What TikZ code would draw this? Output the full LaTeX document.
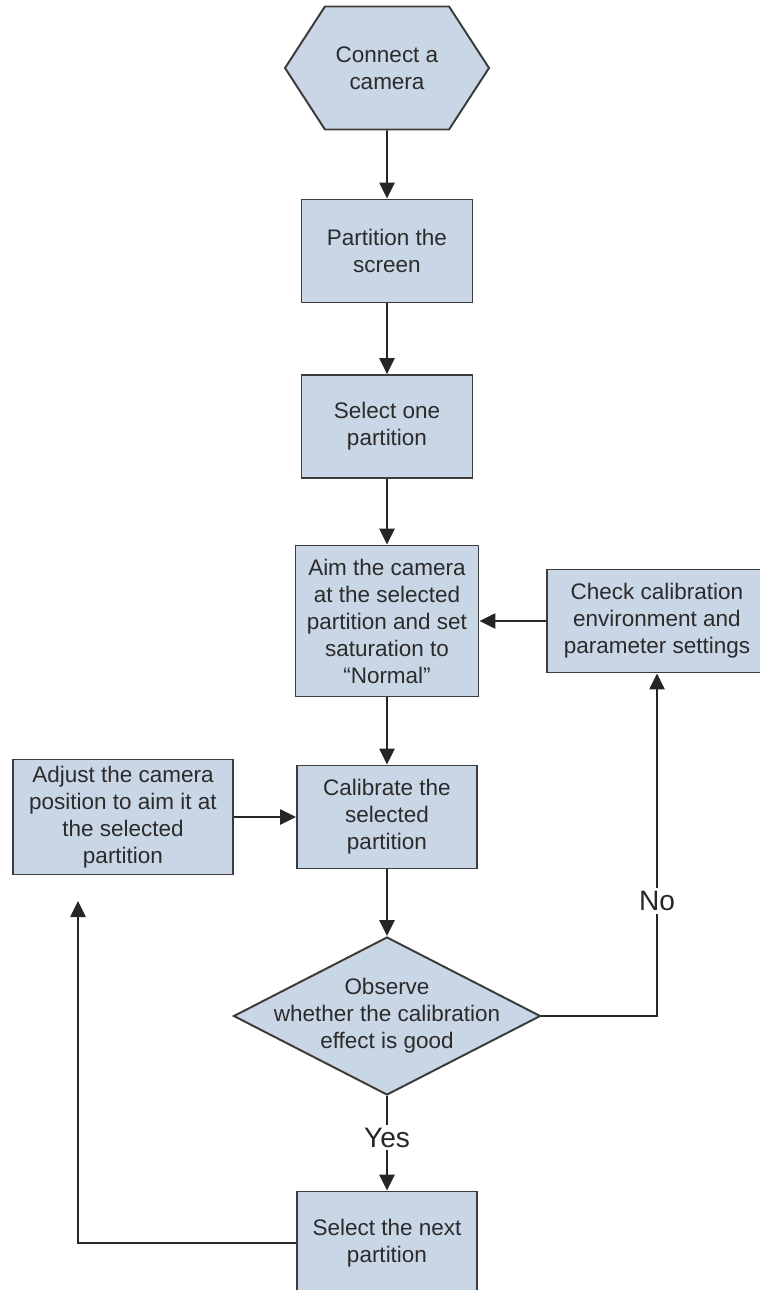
\documentclass[tikz,border=0pt]{standalone}
\usepackage{fontspec}
\setmainfont{Liberation Sans}
\usetikzlibrary{shapes.geometric, shapes.symbols, arrows.meta}
\definecolor{boxblue}{HTML}{C9D6E6}
\definecolor{edgegray}{HTML}{3C3C3C}
\definecolor{textgray}{HTML}{2B2B2B}

\begin{document}
\begin{tikzpicture}[
            base/.style = {draw=edgegray, line width=1.4pt, fill=boxblue, text=textgray, align=center, inner sep=0pt, font=\fontsize{16}{19.2}\selectfont},
            task/.style = {base, rectangle, minimum width=4.5cm, minimum height=2.575cm},
            start/.style = {base, signal, signal to=west and east, signal pointer angle=114, minimum width=5.1cm, minimum height=3.075cm},
            decision/.style = {base, diamond, minimum width=7.675cm, minimum height=3.95cm},
            link/.style = {line width=1.4pt, draw=black!85, -{Triangle[length=0.4cm, width=0.38cm]}},
            answer/.style = {fill=white, text=black!85, inner sep=2pt, font=\fontsize{20}{24}\selectfont},
            ]
            \useasboundingbox (0, 0) rectangle (19, -32.25);

            \node[start]    (connect) at (9.675, -1.7) {Connect a\\camera};
            \node[task, minimum width=4.275cm] (part) at (9.675, -6.275) {Partition the\\screen};
            \node[task, minimum width=4.275cm] (one) at (9.675, -10.665) {Select one\\partition};
            \node[task, minimum width=4.575cm, minimum height=3.775cm] (aim) at (9.675, -15.525) {Aim the camera\\at the selected\\partition and set\\saturation to\\``Normal''};
            \node[task, minimum width=5.5cm] (check) at (16.425, -15.525) {Check calibration\\environment and\\parameter settings};
            \node[task, minimum width=5.5cm, minimum height=2.875cm] (adjust) at (3.075, -20.425) {Adjust the camera\\position to aim it at\\the selected\\partition};
            \node[task] (calib) at (9.675, -20.425) {Calibrate the\\selected\\partition};
            \node[decision, label={[align=center, text=textgray, font=\fontsize{16}{19.2}\selectfont]center:Observe\\whether the calibration\\effect is good}] (observe) at (9.675, -25.4) {};
            \node[task] (next) at (9.675, -31.075) {Select the next\\partition};
            \coordinate (backtip) at (1.95, -22.525);

            \draw[link] (connect) -- (part);
            \draw[link] (part) -- (one);
            \draw[link] (one) -- (aim);
            \draw[link] (aim) -- (calib);
            \draw[link] (check) -- (aim);
            \draw[link] (adjust) -- (calib);
            \draw[link] (calib) -- (observe);
            \draw[link] (observe.east) -| node[answer, pos=0.668] {No} (check.south);
            \draw[link] (observe.south) -- node[answer, pos=0.44] {Yes} (next.north);
            \draw[link] (next.west) -| (backtip);

        \end{tikzpicture}
\end{document}
